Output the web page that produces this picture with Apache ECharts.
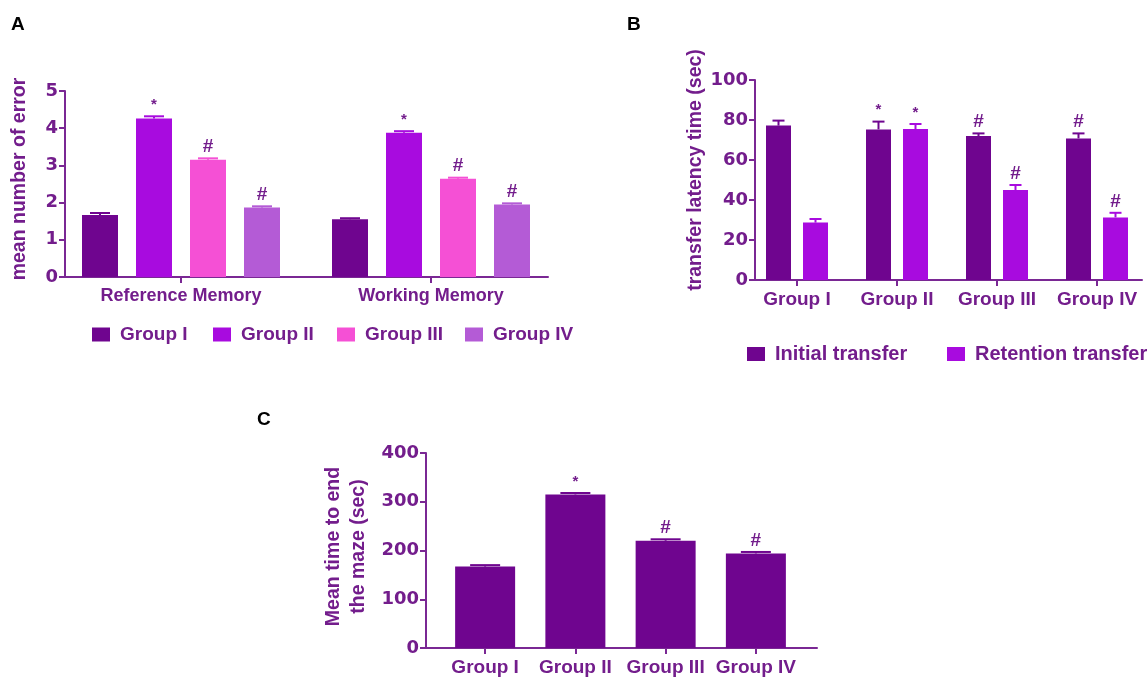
<!DOCTYPE html>
<html><head><meta charset="utf-8">
<script src="https://cdn.jsdelivr.net/npm/echarts@6/dist/echarts.min.js"></script>
<style>html,body{margin:0;padding:0;background:#fff}#c{width:1148px;height:677px}</style>
</head><body><div id="c"></div>
<script>
// ---------- Panel A data ----------
const memoryCategories = ['Reference Memory', 'Working Memory'];
const groupNames = ['Group I', 'Group II', 'Group III', 'Group IV'];
const errorMeans = [[1.67, 1.55], [4.26, 3.88], [3.15, 2.64], [1.87, 1.95]];
const errorSEM   = [[0.05, 0.03], [0.06, 0.04], [0.04, 0.03], [0.03, 0.03]];
const errorMarks = [['', ''], ['*', '*'], ['#', '#'], ['#', '#']];
const yTicksA = [0, 5, 1];

// ---------- Panel B data ----------
const transferCategories = ['Group I', 'Group II', 'Group III', 'Group IV'];
const transferNames = ['Initial transfer', 'Retention transfer'];
const transferMeans = [[77.2, 75.3, 72.0, 70.8], [28.7, 75.5, 45.0, 31.3]];
const transferSEM   = [[2.5, 3.9, 1.3, 2.5], [1.8, 2.5, 2.5, 2.3]];
const transferMarks = [['', '*', '#', '#'], ['', '*', '#', '#']];
const yTicksB = [0, 100, 20];

// ---------- Panel C data ----------
const mazeCategories = ['Group I', 'Group II', 'Group III', 'Group IV'];
const mazeMeans = [167, 315, 220, 194];
const mazeSEM   = [3, 3, 3, 3];
const mazeMarks = ['', '*', '#', '#'];
const yTicksC = [0, 400, 100];

// ---------- styles ----------
const FONT = '"Liberation Sans", Arial, sans-serif';
const NUMFONT = '"DejaVu Sans", sans-serif';
const TXT = '#731d8c';
const AX = '#7a2894';
const colorsA = ['#6f058f', '#a80bdf', '#f550d5', '#b45bd6'];
const colorsB = ['#6f058f', '#a80bdf'];
const colorC = '#6f058f';

function errSeries(name, axis, means, sems, marks, offset, capW, color) {
  return {
    type: 'custom', name: name, xAxisIndex: axis, yAxisIndex: axis, silent: true, z: 5,
    data: means.map((m, i) => [i, m, sems[i]]),
    renderItem(params, api) {
      const i = api.value(0), m = api.value(1), s = api.value(2);
      const mark = marks[params.dataIndex];
      const base = api.coord([i, m]);
      const top = api.coord([i, m + s]);
      const x = base[0] + offset;
      const ch = [
        {type: 'line', shape: {x1: x, y1: base[1], x2: x, y2: top[1]}, style: {stroke: color, lineWidth: 2}},
        {type: 'line', shape: {x1: x - capW / 2, y1: top[1], x2: x + capW / 2, y2: top[1]}, style: {stroke: color, lineWidth: 2}}
      ];
      if (mark) ch.push({type: 'text', x: x, y: top[1] - (mark === '*' ? 4 : 2), style: {
        text: mark, fill: TXT, font: (mark === '*' ? 'bold 15px ' : 'bold 19px ') + FONT,
        align: 'center', verticalAlign: 'bottom'}});
      return {type: 'group', children: ch};
    }
  };
}

function frameAxes(range, name, nameGap, nameLH, shiftUp) {
  return {
    x: {type: 'value', min: 0, max: 1, axisLine: {show: true, lineStyle: {color: AX, width: 2}},
        axisTick: {show: false}, axisLabel: {show: false}, splitLine: {show: false}},
    y: {type: 'value', min: range[0], max: range[1], interval: range[2],
        axisLine: {show: true, lineStyle: {color: AX, width: 2}},
        axisTick: {show: true, length: 6, lineStyle: {color: AX, width: 2}},
        axisLabel: {color: TXT, fontFamily: NUMFONT, fontWeight: 'bold', fontSize: 18, margin: 7},
        splitLine: {show: false},
        name: name, nameLocation: 'middle', nameGap: nameGap,
        nameTextStyle: {color: TXT, fontFamily: FONT, fontWeight: 'bold', fontSize: 19.5, lineHeight: nameLH,
                        padding: [0, 0, 0, shiftUp * 2]}}
  };
}
function barAxes(cats, range, fs, margin) {
  return {
    x: {type: 'category', data: cats, axisLine: {show: false},
        axisTick: {show: true, alignWithLabel: true, length: 6, lineStyle: {color: AX, width: 2}},
        axisLabel: {color: TXT, fontFamily: FONT, fontWeight: 'bold', fontSize: fs, margin: margin, interval: 0}},
    y: {type: 'value', min: range[0], max: range[1], show: false, splitLine: {show: false}}
  };
}

const fA = frameAxes(yTicksA, 'mean number of error', 34, 22, 5);
const bA = barAxes(memoryCategories, yTicksA, 18, 10);
const fB = frameAxes(yTicksB, 'transfer latency time (sec)', 48, 22, 10);
const bB = barAxes(transferCategories, yTicksB, 19, 10);
const fC = frameAxes(yTicksC, 'Mean time to end\nthe maze (sec)', 55, 25, 4);
const bC = barAxes(mazeCategories, yTicksC, 19, 10);

const grids = [
  {left: 56, top: 91, width: 500, height: 186},   // A bars
  {left: 65, top: 91, width: 483, height: 186},   // A frame
  {left: 747, top: 80, width: 400, height: 200},  // B bars
  {left: 755, top: 80, width: 387, height: 200},  // B frame
  {left: 440, top: 453, width: 361, height: 195}, // C bars
  {left: 426, top: 453, width: 391, height: 195}  // C frame
];

const series = [];
const bwA = 36, gapA = 18;
groupNames.forEach((g, k) => {
  series.push({type: 'bar', name: g, xAxisIndex: 0, yAxisIndex: 0, data: errorMeans[k],
    barWidth: bwA, barGap: (gapA / bwA * 100) + '%', itemStyle: {color: colorsA[k]}});
});
groupNames.forEach((g, k) => {
  series.push(errSeries('errA' + k, 0, errorMeans[k], errorSEM[k], errorMarks[k],
    (k - 1.5) * (bwA + gapA), 20, colorsA[k]));
});
const bwB = 25, gapB = 12;
transferNames.forEach((n, k) => {
  series.push({type: 'bar', name: n, xAxisIndex: 2, yAxisIndex: 2, data: transferMeans[k],
    barWidth: bwB, barGap: (gapB / bwB * 100) + '%', itemStyle: {color: colorsB[k]}});
});
transferNames.forEach((n, k) => {
  series.push(errSeries('errB' + k, 2, transferMeans[k], transferSEM[k], transferMarks[k],
    (k - 0.5) * (bwB + gapB), 12, colorsB[k]));
});
series.push({type: 'bar', name: 'Maze', xAxisIndex: 4, yAxisIndex: 4, data: mazeMeans,
  barWidth: 60, itemStyle: {color: colorC}});
series.push(errSeries('errC', 4, mazeMeans, mazeSEM, mazeMarks, 0, 30, colorC));

function legendItem(name, left, top, fs) {
  return {data: [name], left: left, top: top, padding: 0, icon: 'rect', itemWidth: 18, itemHeight: 14,
    itemGap: 0, selectedMode: false,
    textStyle: {color: TXT, fontFamily: FONT, fontWeight: 'bold', fontSize: fs, padding: [0, 0, 0, 5]}};
}
const legends = [
  legendItem('Group I', 92, 325, 19),
  legendItem('Group II', 213, 325, 19),
  legendItem('Group III', 337, 325, 19),
  legendItem('Group IV', 465, 325, 19),
  legendItem('Initial transfer', 747, 344, 20),
  legendItem('Retention transfer', 947, 344, 20)
];

const chart = echarts.init(document.getElementById('c'), null, {renderer: 'canvas'});
chart.setOption({
  animation: false,
  backgroundColor: '#fff',
  grid: grids,
  xAxis: [bA.x, fA.x, bB.x, fB.x, bC.x, fC.x].map((a, i) => Object.assign({gridIndex: i}, a)),
  yAxis: [bA.y, fA.y, bB.y, fB.y, bC.y, fC.y].map((a, i) => Object.assign({gridIndex: i}, a)),
  legend: legends,
  series: series,
  graphic: [
    {type: 'text', left: 11, top: 15, style: {text: 'A', font: 'bold 19px ' + FONT, fill: '#000'}},
    {type: 'text', left: 627, top: 15, style: {text: 'B', font: 'bold 19px ' + FONT, fill: '#000'}},
    {type: 'text', left: 257, top: 410, style: {text: 'C', font: 'bold 19px ' + FONT, fill: '#000'}}
  ]
});
</script>
</body></html>
